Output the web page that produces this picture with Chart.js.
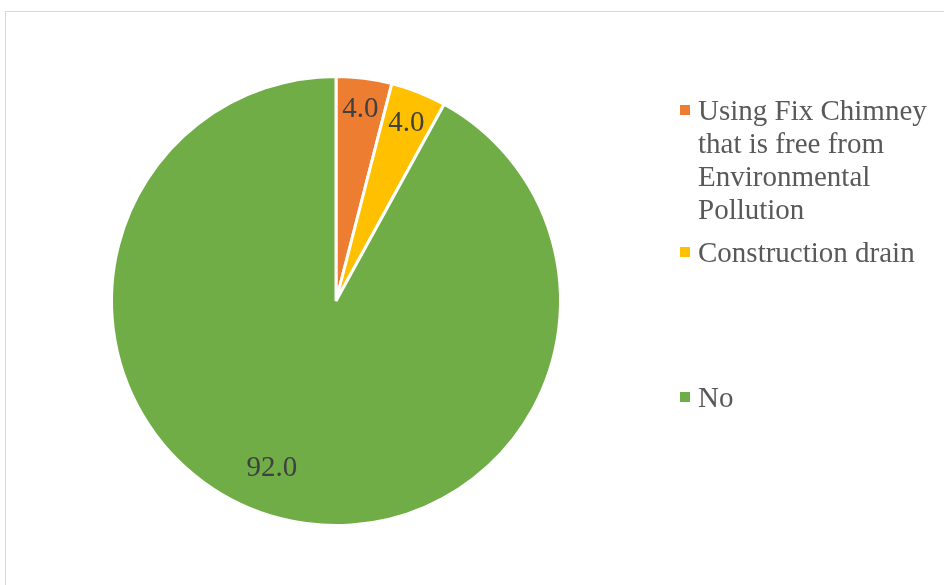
<!DOCTYPE html>
<html>
<head>
<meta charset="utf-8">
<script src="https://cdn.jsdelivr.net/npm/chart.js@4.4.1/dist/chart.umd.min.js"></script>
<style>
  html, body { margin: 0; padding: 0; background: #ffffff; }
  #wrap { width: 944px; height: 585px; }
</style>
</head>
<body>
<div id="wrap"><canvas id="pie" width="944" height="585"></canvas></div>
<script>
// Responses: pollution-control measure taken (percent of respondents)
const categories = [
  'Using Fix Chimney that is free from Environmental Pollution',
  'Construction drain',
  'No'
];
const percentValues = [4.0, 4.0, 92.0];
const sliceColors = ['#ED7D31', '#FFC000', '#70AD47'];

const SERIF = "'Liberation Serif', 'Times New Roman', serif";

// Thin frame around the chart area
const framePlugin = {
  id: 'frame',
  beforeDraw(chart) {
    const ctx = chart.ctx;
    ctx.save();
    ctx.strokeStyle = '#d9d9d9';
    ctx.lineWidth = 1;
    ctx.strokeRect(5.5, 11.5, 2000, 2000);
    ctx.restore();
  }
};

// Value labels drawn inside each slice, near its outer edge
const sliceLabelPlugin = {
  id: 'sliceLabels',
  afterDatasetsDraw(chart, args, opts) {
    const ctx = chart.ctx;
    const meta = chart.getDatasetMeta(0);
    const values = chart.data.datasets[0].data;
    ctx.save();
    ctx.font = opts.font;
    ctx.fillStyle = opts.color;
    ctx.textAlign = 'center';
    ctx.textBaseline = 'middle';
    meta.data.forEach((arc, i) => {
      const p = arc.getProps(['x', 'y', 'startAngle', 'endAngle', 'outerRadius'], true);
      const mid = (p.startAngle + p.endAngle) / 2 + (opts.angleShift[i] || 0) * Math.PI / 180;
      const r = p.outerRadius * opts.radiusFactor[i];
      ctx.fillText(values[i].toFixed(1), p.x + Math.cos(mid) * r, p.y + Math.sin(mid) * r);
    });
    ctx.restore();
  }
};

// Legend on the right with word-wrapped entries
const sideLegendPlugin = {
  id: 'sideLegend',
  afterDraw(chart, args, opts) {
    const ctx = chart.ctx;
    const labels = chart.data.labels;
    const colors = chart.data.datasets[0].backgroundColor;
    ctx.save();
    ctx.font = opts.font;
    ctx.textAlign = 'left';
    ctx.textBaseline = 'alphabetic';
    labels.forEach((label, i) => {
      // wrap words into lines no wider than opts.maxWidth
      const words = label.split(' ');
      const lines = [];
      let line = '';
      words.forEach(w => {
        const test = line ? line + ' ' + w : w;
        if (ctx.measureText(test).width > opts.maxWidth && line) {
          lines.push(line);
          line = w;
        } else {
          line = test;
        }
      });
      if (line) lines.push(line);
      const base = opts.baselines[i];
      ctx.fillStyle = colors[i];
      ctx.fillRect(opts.boxX, base - opts.boxOffset, opts.boxSize, opts.boxSize);
      ctx.fillStyle = opts.color;
      lines.forEach((ln, k) => ctx.fillText(ln, opts.textX, base + k * opts.lineHeight));
    });
    ctx.restore();
  }
};

new Chart(document.getElementById('pie'), {
  type: 'pie',
  data: {
    labels: categories,
    datasets: [{
      data: percentValues,
      backgroundColor: sliceColors,
      borderColor: '#ffffff',
      borderWidth: 3,
      hoverOffset: 0
    }]
  },
  options: {
    responsive: false,
    animation: false,
    events: [],
    layout: { padding: { top: 75, bottom: 58, left: 110, right: 382 } },
    plugins: {
      legend: { display: false },
      tooltip: { enabled: false },
      sliceLabels: {
        font: '29px ' + SERIF,
        color: '#404040',
        radiusFactor: [0.862, 0.853, 0.797],
        angleShift: [0, 0, 6.6]
      },
      sideLegend: {
        font: '29px ' + SERIF,
        color: '#595959',
        maxWidth: 240,
        lineHeight: 33,
        baselines: [120, 262, 407],
        boxX: 680,
        boxSize: 10,
        boxOffset: 15,
        textX: 698
      }
    }
  },
  plugins: [framePlugin, sliceLabelPlugin, sideLegendPlugin]
});
</script>
</body>
</html>
